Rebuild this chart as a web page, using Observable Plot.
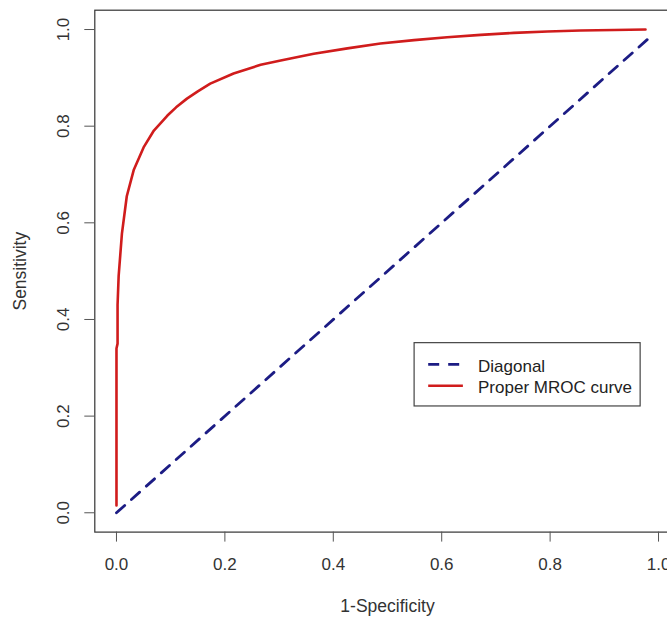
<!DOCTYPE html>
<html><head><meta charset="utf-8">
<script src="https://cdn.jsdelivr.net/npm/d3@7"></script>
<script src="https://cdn.jsdelivr.net/npm/@observablehq/plot@0.6"></script>
<style>
html,body{margin:0;padding:0;background:#fff;overflow:hidden;}
#chart{width:667px;height:617px;overflow:hidden;}
</style></head><body><div id="chart"></div>
<script>
// Proper MROC curve (1-Specificity, Sensitivity)
const fpr = [0, 0, 0.002, 0.002, 0.004, 0.010, 0.019, 0.032, 0.050, 0.069, 0.094, 0.110, 0.130, 0.150, 0.173, 0.216, 0.266, 0.303, 0.339, 0.364, 0.426, 0.487, 0.549, 0.610, 0.672, 0.733, 0.795, 0.856, 0.918, 0.976];
const tpr = [0.015, 0.34, 0.35, 0.43, 0.49, 0.577, 0.655, 0.71, 0.756, 0.791, 0.822, 0.839, 0.857, 0.872, 0.888, 0.909, 0.927, 0.936, 0.944, 0.950, 0.961, 0.971, 0.978, 0.984, 0.989, 0.993, 0.996, 0.998, 0.999, 1.0];
// Diagonal reference line
const diagX = [0, 0.985];
const diagY = [0, 0.985];
const xTicks = [0, 0.2, 0.4, 0.6, 0.8, 1.0];
const yTicks = [0, 0.2, 0.4, 0.6, 0.8, 1.0];
const xLabel = "1-Specificity";
const yLabel = "Sensitivity";
const legendLabels = ["Diagonal", "Proper MROC curve"];

const curve = fpr.map((x, i) => ({x, y: tpr[i]}));
const diag = diagX.map((x, i) => ({x, y: diagY[i]}));

const font = "'Liberation Sans', Arial, sans-serif";
const RED = "#d01c1c", BLUE = "#1c1c84";
// legend placement (plot coordinates)
const LG = {x1: 0.55, x2: 0.967, y1: 0.22, y2: 0.351, sx1: 0.576, sx2: 0.640, tx: 0.667, ys: [0.307, 0.263]};
const legendRows = legendLabels.map((t, i) => ({t, y: LG.ys[i], color: i === 0 ? BLUE : RED, dash: i === 0 ? "11,9" : null}));

const plot = Plot.plot({
  width: 667, height: 617,
  marginLeft: 94.3, marginRight: -12.7, marginTop: 9.7, marginBottom: 85.4,
  style: {fontFamily: font, background: "#fff", overflow: "hidden"},
  x: {domain: [-0.04, 1.04], axis: null},
  y: {domain: [-0.04, 1.04], axis: null},
  marks: [
    Plot.frame({stroke: "#333", strokeWidth: 1.2}),
    Plot.axisX(xTicks, {tickSize: 10, tickPadding: 15.5, tickFormat: d3.format(".1f"), fontSize: 17, stroke: "#555", fill: "#333", label: null}),
    Plot.axisY(yTicks, {tickSize: 10, stroke: "#555", fill: "none", label: null}),
    Plot.text(yTicks, {y: d => d, frameAnchor: "left", dx: -31, rotate: -90, text: d3.format(".1f"), fontSize: 17, fill: "#333", textAnchor: "middle", lineAnchor: "middle"}),
    Plot.text([yLabel], {frameAnchor: "left", dx: -74, rotate: -90, fontSize: 17.5, fill: "#333", textAnchor: "middle", lineAnchor: "middle"}),
    Plot.text([xLabel], {frameAnchor: "bottom", dy: 74, fontSize: 17.5, fill: "#333", textAnchor: "middle", lineAnchor: "middle"}),
    Plot.line(diag, {x: "x", y: "y", stroke: BLUE, strokeWidth: 2.8, strokeDasharray: "11,9"}),
    Plot.line(curve, {x: "x", y: "y", stroke: RED, strokeWidth: 2.6, strokeLinejoin: "round"}),
    Plot.rect([LG], {x1: "x1", x2: "x2", y1: "y1", y2: "y2", fill: "#fff", stroke: "#444", strokeWidth: 1.2}),
    Plot.ruleY(legendRows.filter(d => d.dash), {y: "y", x1: LG.sx1, x2: LG.sx2, stroke: "color", strokeWidth: 2.8, strokeDasharray: "11,9"}),
    Plot.ruleY(legendRows.filter(d => !d.dash), {y: "y", x1: LG.sx1, x2: LG.sx2, stroke: "color", strokeWidth: 2.6}),
    Plot.text(legendRows, {x: LG.tx, y: "y", dy: 2, text: "t", fontSize: 17, fill: "#222", textAnchor: "start", lineAnchor: "middle"})
  ]
});
document.getElementById("chart").appendChild(plot);
</script></body></html>
